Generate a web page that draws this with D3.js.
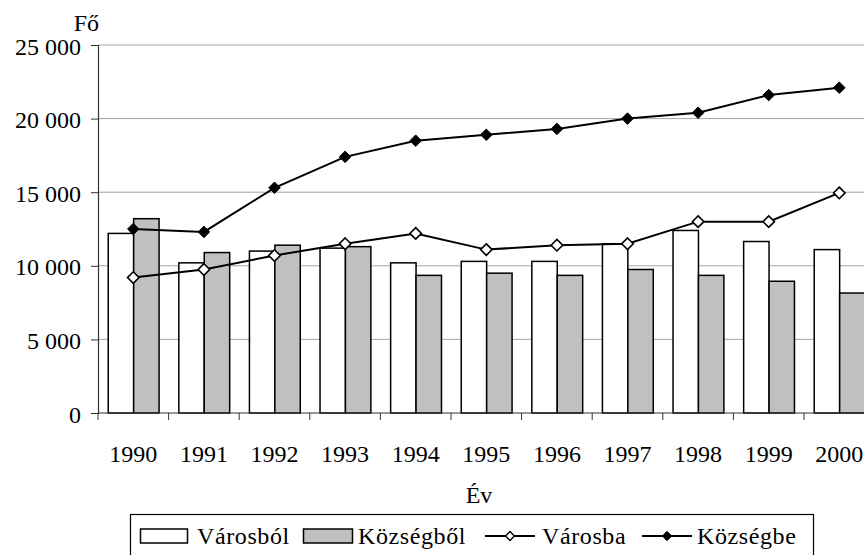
<!DOCTYPE html>
<html>
<head>
<meta charset="utf-8">
<script src="https://cdn.jsdelivr.net/npm/d3@7"></script>
<style>
  body { margin: 0; background: #fff; }
  svg { display: block; font-family: "Liberation Serif", "Times New Roman", serif; }
</style>
</head>
<body>
<div id="chart"></div>
<script>
// data
var years = ["1990","1991","1992","1993","1994","1995","1996","1997","1998","1999","2000"];
var varosbol = [12200, 10200, 11000, 11200, 10200, 10300, 10300, 11500, 12400, 11650, 11100];
var kozsegbol = [13200, 10900, 11400, 11300, 9350, 9500, 9350, 9750, 9350, 8950, 8150];
var varosba = [9200, 9750, 10700, 11500, 12200, 11100, 11400, 11500, 13000, 13000, 14950];
var kozsegbe = [12500, 12300, 15300, 17400, 18500, 18900, 19300, 20000, 20400, 21600, 22100];
var yTicks = [0, 5000, 10000, 15000, 20000, 25000];

var W = 864, H = 555;
var mLeft = 98, mTop = 45, mBottom = 413;
var band = 70.6;
var fs = 24;

var svg = d3.select("#chart").append("svg").attr("width", W).attr("height", H);

var x = d3.scaleBand().domain(years).range([mLeft, mLeft + band * years.length]).padding(0);
var y = d3.scaleLinear().domain([0, 25000]).range([mBottom, mTop]);

var fmt = function(v) { return d3.format(",")(v).replace(/,/g, " "); };

// gridlines
svg.append("g").selectAll("line").data(yTicks.filter(d => d > 0)).enter().append("line")
	.attr("x1", mLeft).attr("x2", W)
	.attr("y1", d => y(d)).attr("y2", d => y(d))
	.attr("stroke", "#a6a6a6").attr("stroke-width", 1);

// bars
var bw = x.bandwidth() * 0.36, off = x.bandwidth() * 0.145;
svg.append("g").selectAll("rect").data(varosbol).enter().append("rect")
	.attr("x", (d, i) => x(years[i]) + off)
	.attr("y", d => y(d))
	.attr("width", bw).attr("height", d => mBottom - y(d))
	.attr("fill", "#fff").attr("stroke", "#000").attr("stroke-width", 1.5);
svg.append("g").selectAll("rect").data(kozsegbol).enter().append("rect")
	.attr("x", (d, i) => x(years[i]) + off + bw)
	.attr("y", d => y(d))
	.attr("width", bw).attr("height", d => mBottom - y(d))
	.attr("fill", "#c0c0c0").attr("stroke", "#000").attr("stroke-width", 1.5);

// axes
var yAxis = svg.append("g").attr("transform", "translate(" + mLeft + ",0)")
	.call(d3.axisLeft(y).tickValues(yTicks).tickSize(7).tickPadding(10).tickFormat(fmt));
var xAxis = svg.append("g").attr("transform", "translate(0," + mBottom + ")")
	.call(d3.axisBottom(x).tickSize(0).tickPadding(32));
xAxis.selectAll(".tick line").remove();
// category boundary ticks
svg.append("g").selectAll("line").data(years).enter().append("line")
	.attr("x1", d => x(d)).attr("x2", d => x(d))
	.attr("y1", mBottom).attr("y2", mBottom + 7)
	.attr("stroke", "#333");
[yAxis, xAxis].forEach(function(a) {
	a.select(".domain").attr("stroke", "#333").attr("stroke-width", 1.2);
	a.selectAll(".tick line").attr("stroke", "#333");
	a.selectAll("text").attr("font-family", "Liberation Serif").attr("font-size", fs).attr("fill", "#000");
});
yAxis.selectAll("text").attr("dy", "0.38em");
xAxis.select(".domain").attr("d", "M" + mLeft + ",0H" + W);

// lines
var line = d3.line().x((d, i) => x(years[i]) + x.bandwidth() / 2).y(d => y(d));
svg.append("path").datum(varosba).attr("d", line).attr("fill", "none").attr("stroke", "#000").attr("stroke-width", 2);
svg.append("path").datum(kozsegbe).attr("d", line).attr("fill", "none").attr("stroke", "#000").attr("stroke-width", 2);

var diamond = d3.symbol().type(d3.symbolDiamond2).size(85);
svg.append("g").selectAll("path").data(varosba).enter().append("path")
	.attr("d", diamond)
	.attr("transform", (d, i) => "translate(" + (x(years[i]) + x.bandwidth() / 2) + "," + y(d) + ")")
	.attr("fill", "#fff").attr("stroke", "#000").attr("stroke-width", 1.6);
svg.append("g").selectAll("path").data(kozsegbe).enter().append("path")
	.attr("d", diamond)
	.attr("transform", (d, i) => "translate(" + (x(years[i]) + x.bandwidth() / 2) + "," + y(d) + ")")
	.attr("fill", "#000").attr("stroke", "#000").attr("stroke-width", 1);

// axis titles
svg.append("text").attr("x", 99).attr("y", 31).attr("text-anchor", "end")
	.attr("font-size", fs).text("Fő");
svg.append("text").attr("x", 479).attr("y", 503).attr("text-anchor", "middle")
	.attr("font-size", fs).text("Év");

// legend
var lg = svg.append("g").attr("font-size", fs).attr("letter-spacing", "0.6px");
lg.append("rect").attr("x", 130.5).attr("y", 514.5).attr("width", 683).attr("height", 60)
	.attr("fill", "#fff").attr("stroke", "#000").attr("stroke-width", 1.2);
var ly = 536;
lg.append("rect").attr("x", 140.5).attr("y", ly - 7).attr("width", 47).attr("height", 14)
	.attr("fill", "#fff").attr("stroke", "#000").attr("stroke-width", 1.5);
lg.append("text").attr("x", 197).attr("y", ly + 8).text("Városból");
lg.append("rect").attr("x", 303.5).attr("y", ly - 7).attr("width", 49).attr("height", 14)
	.attr("fill", "#c0c0c0").attr("stroke", "#000").attr("stroke-width", 1.5);
lg.append("text").attr("x", 358).attr("y", ly + 8).text("Községből");
lg.append("line").attr("x1", 485).attr("x2", 535).attr("y1", ly).attr("y2", ly).attr("stroke", "#000").attr("stroke-width", 2);
lg.append("path").attr("d", d3.symbol().type(d3.symbolDiamond2).size(50))
	.attr("transform", "translate(510," + ly + ")").attr("fill", "#fff").attr("stroke", "#000").attr("stroke-width", 1.4);
lg.append("text").attr("x", 542).attr("y", ly + 8).text("Városba");
lg.append("line").attr("x1", 642).attr("x2", 692).attr("y1", ly).attr("y2", ly).attr("stroke", "#000").attr("stroke-width", 2);
lg.append("path").attr("d", d3.symbol().type(d3.symbolDiamond2).size(55))
	.attr("transform", "translate(667," + ly + ")").attr("fill", "#000").attr("stroke", "#000");
lg.append("text").attr("x", 697).attr("y", ly + 8).text("Községbe");
</script>
</body>
</html>
